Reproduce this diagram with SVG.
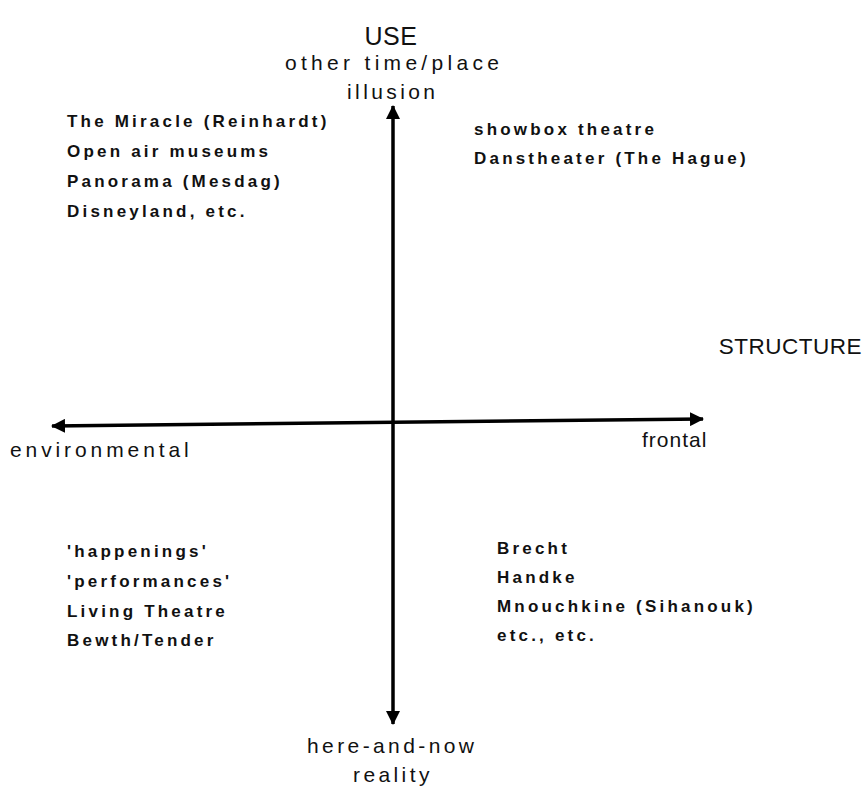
<svg xmlns="http://www.w3.org/2000/svg" width="865" height="791" viewBox="0 0 865 791">
<defs>
<marker id="ah" viewBox="0 0 14 14" refX="13" refY="7" markerWidth="14" markerHeight="14" markerUnits="userSpaceOnUse" orient="auto-start-reverse">
<path d="M0,0 L14,7 L0,14 z" fill="#000"/>
</marker>
<style>
.ax{font-family:"Liberation Sans",Arial,sans-serif;font-size:21px;letter-spacing:3.4px;fill:#111}
.ti{font-family:"Liberation Sans",Arial,sans-serif;font-size:25px;letter-spacing:0.5px;fill:#111}
.ls{font-family:"Liberation Sans",Arial,sans-serif;font-size:17px;font-weight:bold;letter-spacing:3.2px;fill:#111}
.cn{stroke:#000;stroke-width:3.5;fill:none;marker-start:url(#ah);marker-end:url(#ah)}
</style>
</defs>
<rect width="865" height="791" fill="#fff"/>
<g id="connectors">
<line class="cn" x1="393" y1="106" x2="393" y2="724"/>
<line class="cn" x1="52" y1="426" x2="703" y2="419"/>
</g>
<g id="use-axis">
<text class="ti" x="391" y="45" text-anchor="middle">USE</text>
<text class="ax" x="285" y="70" style="letter-spacing:4.3px">other time/place</text>
<text class="ax" x="347" y="99">illusion</text>
<text class="ax" x="307" y="753">here-and-now</text>
<text class="ax" x="353" y="782">reality</text>
</g>
<g id="structure-axis">
<text class="ti" x="862" y="354" text-anchor="end" style="font-size:22.5px">STRUCTURE</text>
<text class="ax" x="10" y="457" style="letter-spacing:3.9px">environmental</text>
<text class="ax" x="642" y="447" style="letter-spacing:1px">frontal</text>
</g>
<g id="quadrant-tl">
<text class="ls" x="67" y="127">The Miracle (Reinhardt)</text>
<text class="ls" x="67" y="157">Open air museums</text>
<text class="ls" x="67" y="187">Panorama (Mesdag)</text>
<text class="ls" x="67" y="217">Disneyland, etc.</text>
</g>
<g id="quadrant-tr">
<text class="ls" x="474" y="135">showbox theatre</text>
<text class="ls" x="474" y="164">Danstheater (The Hague)</text>
</g>
<g id="quadrant-bl">
<text class="ls" x="67" y="557">'happenings'</text>
<text class="ls" x="67" y="587">'performances'</text>
<text class="ls" x="67" y="617">Living Theatre</text>
<text class="ls" x="67" y="646">Bewth/Tender</text>
</g>
<g id="quadrant-br">
<text class="ls" x="497" y="554">Brecht</text>
<text class="ls" x="497" y="583">Handke</text>
<text class="ls" x="497" y="612">Mnouchkine (Sihanouk)</text>
<text class="ls" x="497" y="641">etc., etc.</text>
</g>
</svg>
